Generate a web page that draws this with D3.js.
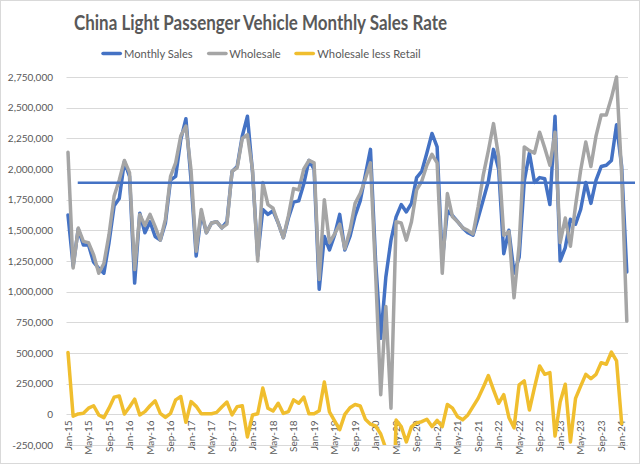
<!DOCTYPE html>
<html><head><meta charset="utf-8">
<script src="https://cdn.jsdelivr.net/npm/d3@7"></script>
<style>
body{margin:0;background:#fff}
svg{display:block}
text{font-family:Lato,"Open Sans",sans-serif}
</style>
</head><body>
<svg id="chart" width="640" height="464"></svg>
<script>
// ---------- DATA ----------
const months = [
 "Jan-15","Feb-15","Mar-15","Apr-15","May-15","Jun-15","Jul-15","Aug-15","Sep-15","Oct-15","Nov-15","Dec-15",
 "Jan-16","Feb-16","Mar-16","Apr-16","May-16","Jun-16","Jul-16","Aug-16","Sep-16","Oct-16","Nov-16","Dec-16",
 "Jan-17","Feb-17","Mar-17","Apr-17","May-17","Jun-17","Jul-17","Aug-17","Sep-17","Oct-17","Nov-17","Dec-17",
 "Jan-18","Feb-18","Mar-18","Apr-18","May-18","Jun-18","Jul-18","Aug-18","Sep-18","Oct-18","Nov-18","Dec-18",
 "Jan-19","Feb-19","Mar-19","Apr-19","May-19","Jun-19","Jul-19","Aug-19","Sep-19","Oct-19","Nov-19","Dec-19",
 "Jan-20","Feb-20","Mar-20","Apr-20","May-20","Jun-20","Jul-20","Aug-20","Sep-20","Oct-20","Nov-20","Dec-20",
 "Jan-21","Feb-21","Mar-21","Apr-21","May-21","Jun-21","Jul-21","Aug-21","Sep-21","Oct-21","Nov-21","Dec-21",
 "Jan-22","Feb-22","Mar-22","Apr-22","May-22","Jun-22","Jul-22","Aug-22","Sep-22","Oct-22","Nov-22","Dec-22",
 "Jan-23","Feb-23","Mar-23","Apr-23","May-23","Jun-23","Jul-23","Aug-23","Sep-23","Oct-23","Nov-23","Dec-23",
 "Jan-24","Feb-24"
];
const monthlySales = [
 1625000,1210000,1510000,1380000,1380000,1240000,1190000,1150000,1400000,1700000,1760000,2060000,
 1940000,1070000,1640000,1480000,1570000,1450000,1420000,1560000,1910000,1940000,2240000,2410000,
 1910000,1290000,1640000,1480000,1560000,1570000,1520000,1570000,1980000,2020000,2270000,2430000,
 1970000,1290000,1670000,1630000,1660000,1560000,1440000,1600000,1730000,1740000,1880000,2070000,
 2000000,1020000,1450000,1340000,1460000,1630000,1340000,1450000,1620000,1740000,1950000,2160000,
 1250000,620000,1120000,1420000,1610000,1710000,1650000,1720000,1930000,1980000,2130000,2290000,
 2180000,1250000,1660000,1620000,1570000,1520000,1480000,1460000,1600000,1750000,1900000,2160000,
 2000000,1310000,1500000,1150000,1280000,1900000,2130000,1890000,1930000,1920000,1710000,2430000,
 1250000,1360000,1590000,1550000,1670000,1890000,1720000,1910000,2020000,2030000,2070000,2360000,
 2020000,1160000
];
const wholesale = [
 2136000,1193000,1519000,1410000,1400000,1300000,1150000,1230000,1465000,1780000,1910000,2070000,
 1970000,1180000,1630000,1540000,1630000,1530000,1420000,1590000,1940000,2050000,2270000,2350000,
 1990000,1330000,1670000,1480000,1560000,1570000,1520000,1550000,1980000,2010000,2250000,2280000,
 1990000,1250000,1890000,1710000,1680000,1560000,1440000,1620000,1840000,1830000,2000000,2070000,
 2050000,1100000,1750000,1400000,1470000,1550000,1350000,1500000,1720000,1800000,1920000,2050000,
 1150000,160000,880000,50000,1570000,1560000,1420000,1570000,1830000,1900000,2030000,2120000,
 2050000,1150000,1800000,1610000,1570000,1520000,1500000,1470000,1690000,1950000,2150000,2370000,
 2100000,1460000,1490000,950000,1380000,2180000,2150000,2130000,2300000,2170000,2030000,2300000,
 1400000,1600000,1370000,1700000,1990000,2220000,2020000,2270000,2440000,2440000,2580000,2750000,
 1950000,760000
];
const wholesaleLessRetail = [
 505000,-15000,3000,8000,50000,70000,-5000,-27000,50000,140000,150000,3000,
 60000,124000,-5000,22000,70000,110000,8000,-25000,8000,118000,145000,-65000,
 104000,65000,5000,5000,5000,16000,60000,100000,-5000,63000,70000,-184000,
 -5000,5000,214000,50000,27000,90000,8000,22000,118000,90000,140000,5000,
 5000,30000,263000,20000,-54000,-125000,0,54000,80000,68000,-40000,-80000,
 -95000,-160000,-280000,-1400000,-47000,-100000,-225000,-100000,-70000,-60000,-40000,-100000,
 -50000,-100000,80000,50000,-20000,-45000,-5000,63000,130000,220000,316000,200000,
 90000,160000,-25000,-110000,240000,272000,35000,220000,394000,326000,340000,-177000,
 100000,245000,-225000,130000,230000,326000,290000,326000,421000,408000,508000,435000,
 -75000
];
const averageSales = 1888000;
const yTickValues = [-250000,0,250000,500000,750000,1000000,1250000,1500000,1750000,2000000,2250000,2500000,2750000];
const xTickLabels = ["Jan-15","May-15","Sep-15","Jan-16","May-16","Sep-16","Jan-17","May-17","Sep-17",
 "Jan-18","May-18","Sep-18","Jan-19","May-19","Sep-19","Jan-20","May-20","Sep-20","Jan-21","May-21",
 "Sep-21","Jan-22","May-22","Sep-22","Jan-23","May-23","Sep-23","Jan-24"];
const seriesNames = ["Monthly Sales","Wholesale","Wholesale less Retail"];
const chartTitle = "China Light Passenger Vehicle Monthly Sales Rate";

// ---------- DRAW ----------
const svg = d3.select("#chart");
const W = 640, H = 464;
const colors = {blue:"#4472C4", gray:"#A5A5A5", gold:"#F0BE2E", text:"#595959", grid:"#D9D9D9"};

svg.append("rect").attr("x",0.5).attr("y",0.5).attr("width",W-1).attr("height",H-1)
  .attr("fill","#fff").attr("stroke","#D9D9D9");

const plot = {left:66.5, right:628, top:77, bottom:445};
const x = d3.scaleLinear().domain([0, months.length-1]).range([68, 626.8]);
const y = d3.scaleLinear().domain([yTickValues[0], yTickValues[yTickValues.length-1]]).range([plot.bottom, plot.top]);

const fmt = d3.formatLocale({decimal:".", thousands:",", grouping:[3], currency:["",""], minus:"-"}).format(",");

// gridlines
svg.append("g").selectAll("line").data(yTickValues).join("line")
  .attr("x1",plot.left).attr("x2",plot.right)
  .attr("y1",d=>Math.round(y(d))+0.5).attr("y2",d=>Math.round(y(d))+0.5)
  .attr("stroke",colors.grid).attr("stroke-width",1);

// y axis labels via d3 axis
const yAxis = d3.axisLeft(y).tickValues(yTickValues).tickFormat(fmt).tickSize(0).tickPadding(0);
const gy = svg.append("g").attr("transform","translate(53,0)").call(yAxis);
gy.select(".domain").remove();
gy.selectAll("text").attr("fill",colors.text).style("font-size","10px").style("font-family","Lato");

// x labels (category axis crosses at 0)
const gx = svg.append("g");
gx.selectAll("text").data(xTickLabels).join("text")
  .attr("transform",d=>`translate(${x(months.indexOf(d))},${y(0)+6}) rotate(-90)`)
  .attr("text-anchor","end").attr("dy","0.35em")
  .attr("fill",colors.text).style("font-size","10px")
  .text(d=>d);

// clip
svg.append("defs").append("clipPath").attr("id","clip")
  .append("rect").attr("x",plot.left-3).attr("y",plot.top-3)
  .attr("width",plot.right-plot.left+6).attr("height",plot.bottom-plot.top+3);

const lineGen = d3.line().defined(d=>d!=null).x((d,i)=>x(i)).y(d=>y(d));
const g = svg.append("g").attr("clip-path","url(#clip)");
function drawSeries(vals,color,w){
  g.append("path").datum(vals).attr("d",lineGen)
   .attr("fill","none").attr("stroke",color).attr("stroke-width",w)
   .attr("stroke-linejoin","round").attr("stroke-linecap","round");
}
drawSeries(monthlySales, colors.blue, 3.5);
drawSeries(wholesale, colors.gray, 3.5);
drawSeries(wholesaleLessRetail, colors.gold, 3.5);

// average line
svg.append("line")
  .attr("x1",x(1.9)).attr("x2",x(110.6))
  .attr("y1",y(averageSales)).attr("y2",y(averageSales))
  .attr("stroke",colors.blue).attr("stroke-width",2.5);

// title
const title = svg.append("text").attr("x",260.5).attr("y",29.5).attr("text-anchor","middle")
  .attr("fill",colors.text).style("font-size","20px").style("font-weight","bold").text(chartTitle);
title.attr("textLength",373).attr("lengthAdjust","spacingAndGlyphs");

// legend
const legendItems = [
  {name:seriesNames[0], color:colors.blue, lx:103, tx:124, tw:68.7},
  {name:seriesNames[1], color:colors.gray, lx:208.7, tx:229.3, tw:51.4},
  {name:seriesNames[2], color:colors.gold, lx:296, tx:317.3, tw:103.4}
];
const lg = svg.append("g");
legendItems.forEach(it=>{
  lg.append("line").attr("x1",it.lx).attr("x2",it.lx+17.3).attr("y1",53.5).attr("y2",53.5)
    .attr("stroke",it.color).attr("stroke-width",3.5).attr("stroke-linecap","round");
  lg.append("text").attr("x",it.tx).attr("y",57.8).attr("fill",colors.text)
    .style("font-size","12px").attr("textLength",it.tw).attr("lengthAdjust","spacingAndGlyphs").text(it.name);
});
</script>
</body></html>
